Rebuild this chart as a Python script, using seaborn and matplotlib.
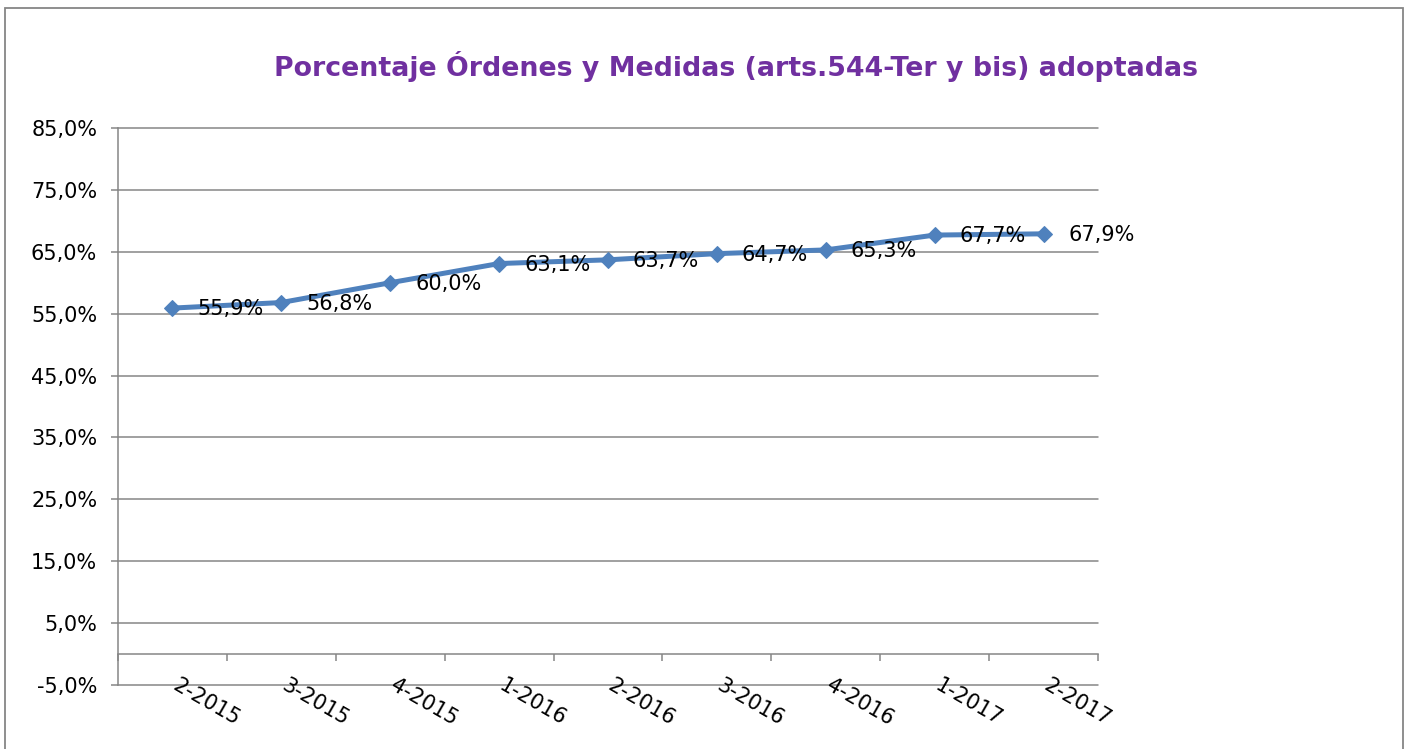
import matplotlib.pyplot as plt
import numpy as np
import pandas as pd
import seaborn as sns
from matplotlib.patches import Rectangle

periodos = ["2-2015", "3-2015", "4-2015", "1-2016", "2-2016",
            "3-2016", "4-2016", "1-2017", "2-2017"]
porcentajes = [55.9, 56.8, 60.0, 63.1, 63.7, 64.7, 65.3, 67.7, 67.9]
y_ticks = [-5, 5, 15, 25, 35, 45, 55, 65, 75, 85]

titulo = "Porcentaje Órdenes y Medidas (arts.544-Ter y bis) adoptadas"

sns.set_style("white")
plt.rcParams["font.family"] = ["DejaVu Sans"]

df = pd.DataFrame({"pos": np.arange(len(periodos)), "pct": porcentajes})

fig = plt.figure(figsize=(14.09, 7.49), dpi=100)
ax = fig.add_axes([118 / 1409, 1 - 685 / 749, (1098 - 118) / 1409, (685 - 128) / 749])

grey = "#868686"
blue = "#4F81BD"

sns.lineplot(data=df, x="pos", y="pct", ax=ax, color=blue, linewidth=3.6,
             marker="D", markersize=8.5, markeredgecolor=blue, zorder=3)

# etiquetas de datos
for x, v in zip(df["pos"], df["pct"]):
    ax.annotate(f"{v:.1f}%".replace(".", ","), (x, v), xytext=(18, -1),
                textcoords="offset points", ha="left", va="center",
                fontsize=15, color="black", zorder=4)

# etiquetas de categorias, giradas
for x, lab in zip(df["pos"], periodos):
    ax.annotate(lab, (x, 0), xytext=(5, -15), textcoords="offset points",
                rotation=-30, rotation_mode="anchor", ha="left", va="top",
                fontsize=15, color="black", annotation_clip=False)

ax.set_xlim(-0.5, len(periodos) - 0.5)
ax.set_ylim(-5, 85)

ax.set_yticks(y_ticks)
ax.set_yticklabels([f"{v:.1f}%".replace(".", ",") for v in y_ticks], fontsize=15,
                   color="black")
ax.yaxis.grid(True, color=grey, linewidth=1.1)
for gl in ax.yaxis.get_gridlines():
    gl.set_clip_on(False)
ax.set_axisbelow(True)

ax.spines["bottom"].set_position(("data", 0))
ax.spines["top"].set_visible(False)
ax.spines["right"].set_visible(False)
for s in ["left", "bottom"]:
    ax.spines[s].set_color(grey)
    ax.spines[s].set_linewidth(1.1)

ax.set_xticks(np.arange(-0.5, len(periodos), 1))
ax.set_xticklabels([])
ax.tick_params(axis="x", bottom=True, length=5, width=1.1, color=grey, direction="out")
ax.tick_params(axis="y", left=True, length=5, width=1.1, color=grey, direction="out",
               pad=10)
ax.set_xlabel("")
ax.set_ylabel("")

fig.text(736 / 1409, 1 - 66 / 749, titulo, ha="center", va="center",
         fontsize=19.3, fontweight="bold", color="#7030A0")

fig.patches.append(Rectangle((5 / 1409, -0.02), 1398 / 1409, 1.02 - 8 / 749,
                             transform=fig.transFigure, fill=False,
                             edgecolor=grey, linewidth=1.3))

fig.savefig("out.png", dpi=100)
